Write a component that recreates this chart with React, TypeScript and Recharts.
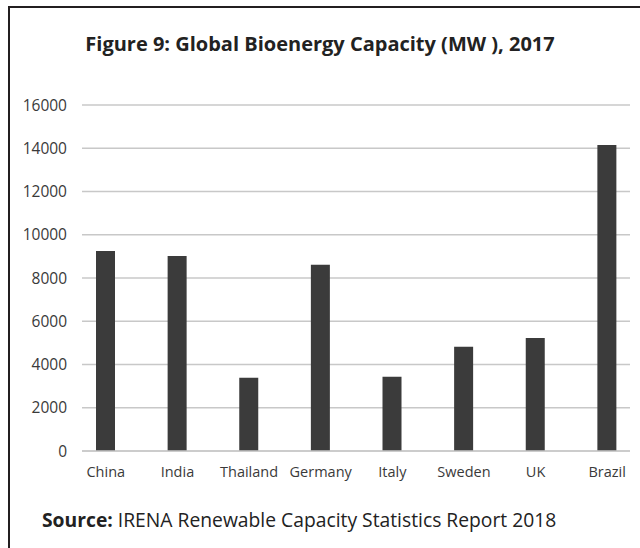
import React from "react";
import { BarChart, Bar, XAxis, YAxis, CartesianGrid } from "recharts";

const countries = ["China", "India", "Thailand", "Germany", "Italy", "Sweden", "UK", "Brazil"];
const capacityMW = [9250, 9020, 3390, 8610, 3430, 4820, 5230, 14150];
const yTicks = [0, 2000, 4000, 6000, 8000, 10000, 12000, 14000, 16000];

const data = countries.map((name, i) => ({ name, value: capacityMW[i] }));

const font = "'Open Sans', sans-serif";

export default function App() {
  return (
    <div
      style={{
        position: "absolute",
        left: 0,
        top: 0,
        width: 640,
        height: 548,
        background: "#fff",
        fontFamily: font,
        overflow: "hidden",
      }}
    >
      {/* frame: top and left edges only */}
      <div style={{ position: "absolute", left: 8, top: 6, width: 632, height: 2, background: "#231f20" }} />
      <div style={{ position: "absolute", left: 8, top: 6, width: 2, height: 542, background: "#231f20" }} />

      <div
        style={{
          position: "absolute",
          left: 0,
          top: 30,
          width: 640,
          textAlign: "center",
          fontSize: 20,
          fontWeight: 700,
          color: "#222",
        }}
      >
        Figure 9: Global Bioenergy Capacity (MW ), 2017
      </div>

      <BarChart
        width={640}
        height={548}
        data={data}
        margin={{ top: 105, right: 10, bottom: 67, left: 22 }}
      >
        <CartesianGrid vertical={false} stroke="#c8c8c8" strokeWidth={1.5} />
        <XAxis
          dataKey="name"
          height={30}
          padding={{ left: -12, right: -13 }}
          axisLine={{ stroke: "#c8c8c8", strokeWidth: 1.5 }}
          tickLine={false}
          tickMargin={10}
          tick={{ fontSize: 14.5, fill: "#3a3a3a", fontFamily: font }}
          interval={0}
        />
        <YAxis
          width={60}
          domain={[0, 16000]}
          ticks={yTicks}
          axisLine={false}
          tickLine={false}
          tickMargin={9}
          tick={{ fontSize: 15.5, fill: "#3a3a3a", fontFamily: font }}
        />
        <Bar dataKey="value" fill="#3b3b3b" barSize={19} isAnimationActive={false} />
      </BarChart>

      <div
        style={{
          position: "absolute",
          left: 42,
          top: 506,
          fontSize: 19.3,
          color: "#222",
          whiteSpace: "nowrap",
        }}
      >
        <b>Source:</b> IRENA Renewable Capacity Statistics Report 2018
      </div>
    </div>
  );
}
